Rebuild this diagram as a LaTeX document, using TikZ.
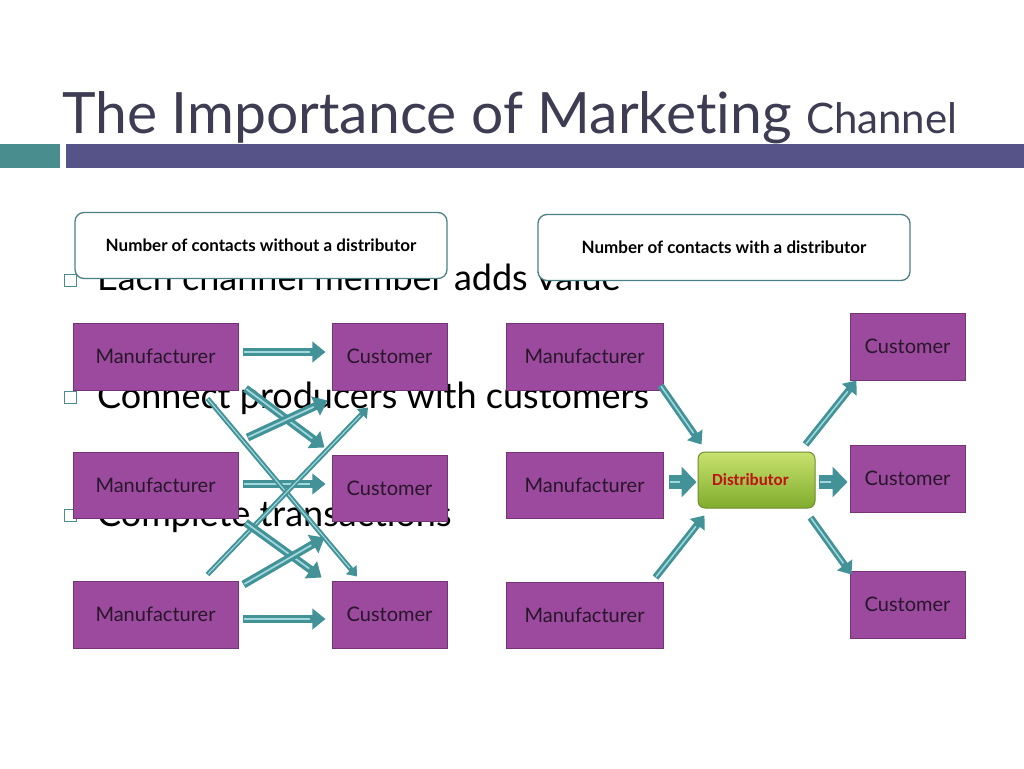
\documentclass[tikz,border=0pt]{standalone}
\usepackage{fontspec}
\setmainfont{Lato}[Ligatures=NoCommon]
\newfontfamily\calibrifont{Carlito}
\usetikzlibrary{arrows.meta,calc}
\definecolor{titlecol}{RGB}{62,60,82}
\definecolor{barpurple}{RGB}{86,83,137}
\definecolor{barteal}{RGB}{74,141,143}
\definecolor{boxpurple}{RGB}{155,74,158}
\definecolor{boxedge}{RGB}{118,52,120}
\definecolor{boxshadow}{RGB}{190,190,190}
\definecolor{boxtext}{RGB}{40,22,42}
\definecolor{arrteal}{RGB}{66,146,152}
\definecolor{arrlight}{RGB}{160,216,220}
\definecolor{calloutedge}{RGB}{74,128,130}
\definecolor{greentop}{RGB}{200,226,110}
\definecolor{greenbot}{RGB}{128,172,44}
\definecolor{greenedge}{RGB}{110,140,50}
\definecolor{distred}{RGB}{192,20,20}
\tikzset{
  x=1pt, y=-1pt,
  pbox/.style={draw=boxedge, line width=1pt, fill=boxpurple, text=boxtext,
    minimum height=67pt, inner sep=0pt, font=\fontsize{20}{24}\selectfont},
  mbox/.style={pbox, minimum width=165pt},
  rmbox/.style={pbox, minimum width=157pt},
  cbox/.style={pbox, minimum width=115pt},
  callout/.style={draw=calloutedge, line width=1.3pt, fill=white, rounded corners=9pt,
    minimum width=372pt, minimum height=66pt, inner sep=0pt,
    font=\bfseries\fontsize{17}{20}\selectfont},
  distbox/.style={draw=greenedge, line width=1pt, top color=greentop, bottom color=greenbot,
    rounded corners=7pt, minimum width=117pt, minimum height=56pt, inner sep=0pt,
    text=distred, font=\calibrifont\bfseries\fontsize{17}{20}\selectfont},
  bullet/.style={anchor=base west, inner sep=0pt, font=\fontsize{36}{40}\selectfont},
  bsq/.style={draw=barteal, line width=0.8pt, fill=white, minimum size=12pt, inner sep=0pt},
  barrow/.style={draw=arrteal, line width=#1,
    -{Triangle[length=1.4*#1+2pt, width=2.3*#1+2pt, fill=arrteal]},
    postaction={draw=arrlight, line width=0.22*#1, -, shorten >=1.4*#1+4pt, shorten <=1pt}},
  barrow/.default=8pt,
  fatarrow/.style={draw=arrteal, line width=14pt,
    -{Triangle[length=15pt, width=30pt, fill=arrteal]},
    postaction={draw=arrlight, line width=2.5pt, -, shorten >=17pt, shorten <=1pt}},
}
\begin{document}
\begin{tikzpicture}
\useasboundingbox (0,0) rectangle (1024,768);
\fill[white] (0,0) rectangle (1024,768);
% title
\node[anchor=base west, inner sep=0pt, text=titlecol] (title) at (62,133)
  {\fontsize{57}{60}\selectfont The Importance of Marketing {\fontsize{42}{44}\selectfont Channel}};
\fill[barteal] (0,144) rectangle (60,168);
\fill[barpurple] (66,144) rectangle (1024,168);
% bullet text behind
\node[bsq] (b1) at (70,280) {};
\node[bsq] (b2) at (70,397) {};
\node[bsq] (b3) at (70,515) {};
\node[bullet] (t1) at (97,290) {Each channel member adds value};
\node[bullet] (t2) at (97,408) {Connect producers with customers};
\node[bullet] (t3) at (97,526) {Complete transactions};
% callouts
\node[callout] (co1) at (261,245.5) {Number of contacts without a distributor};
\node[callout] (co2) at (724,247.5) {Number of contacts with a distributor};
% left diagram
\node[mbox] (lm1) at (155.5,356.5) {Manufacturer};
\node[mbox, minimum height=66pt] (lm2) at (155.5,485) {Manufacturer};
\node[mbox] (lm3) at (155.5,614.5) {Manufacturer};
\node[cbox] (lc1) at (389.5,356.5) {Customer};
\node[cbox, minimum height=66pt] (lc2) at (389.5,488) {Customer};
\node[cbox] (lc3) at (389.5,614.5) {Customer};
% left arrows
\draw[barrow=8pt] ([shift={(4,-4.5)}]lm1.east) -- ([shift={(-6,-4.5)}]lc1.west);
\draw[barrow=8pt] ([shift={(4,-1)}]lm2.east) -- ([shift={(-6,-4)}]lc2.west);
\draw[barrow=8pt] ([shift={(4,4.5)}]lm3.east) -- ([shift={(-6,4.5)}]lc3.west);
\draw[barrow=8pt] ([shift={(7,-2)}]lm1.south east) -- ([shift={(-7,-7)}]lc2.north west);
\draw[barrow=5pt] ([shift={(-31,8)}]lm1.south east) -- ([shift={(-32.5,-4)}]lc3.north);
\draw[barrow=8pt] ([shift={(9,-14)}]lm2.north east) -- ([shift={(-4,10)}]lc1.south west);
\draw[barrow=5pt] ([shift={(-31,-6)}]lm3.north east) -- ([shift={(-21.5,17)}]lc1.south);
\draw[barrow=8pt] ([shift={(7,4)}]lm2.south east) -- ([shift={(-10,-3)}]lc3.north west);
\draw[barrow=8pt] ([shift={(5,4)}]lm3.north east) -- ([shift={(-7,16)}]lc2.south west);
% right diagram
\node[rmbox] (rm1) at (584.5,356.5) {Manufacturer};
\node[rmbox, minimum height=66pt] (rm2) at (584.5,485) {Manufacturer};
\node[rmbox, minimum height=66pt] (rm3) at (584.5,615) {Manufacturer};
\node[cbox] (rc1) at (907.5,346.5) {Customer};
\node[cbox] (rc2) at (907.5,478.5) {Customer};
\node[cbox] (rc3) at (907.5,604.5) {Customer};
\node[distbox] (dist) at (756.5,480) {\hspace*{-12pt}Distributor};
% right arrows
\draw[barrow=7pt] ([shift={(-3,-5)}]rm1.south east) -- ([shift={(4,-7)}]dist.north west);
\draw[fatarrow] ([shift={(5,-3)}]rm2.east) -- ([shift={(-1,2)}]dist.west);
\draw[barrow=7pt] ([shift={(-8,-4)}]rm3.north east) -- ([shift={(7,7)}]dist.south west);
\draw[barrow=7pt] ([shift={(-10,-7)}]dist.north east) -- ([shift={(7,0)}]rc1.south west);
\draw[fatarrow] ([shift={(3,2)}]dist.east) -- ([shift={(-2,3.5)}]rc2.west);
\draw[barrow=7pt] ([shift={(-5,9)}]dist.south east) -- ([shift={(2,4)}]rc3.north west);
\end{tikzpicture}
\end{document}
